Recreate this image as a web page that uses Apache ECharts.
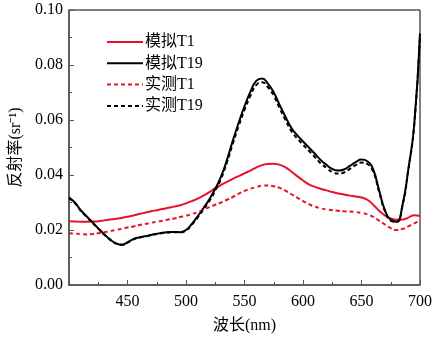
<!DOCTYPE html>
<html><head><meta charset="utf-8">
<script src="https://cdn.jsdelivr.net/npm/echarts@6/dist/echarts.min.js"></script>
<style>html,body{margin:0;padding:0;background:#fff}#c{width:436px;height:339px}</style>
</head><body><div id="c"></div>
<script>
var wavelengths = [400,405,410,415,420,425,430,435,440,445,450,455,460,465,470,475,480,485,490,495,500,505,510,515,520,525,530,535,540,545,550,555,560,565,570,575,580,585,590,595,600,605,610,615,620,625,630,635,640,645,650,655,660,665,670,675,680,685,690,695,700];
var simT1 = [0.0232,0.0231,0.0230,0.0230,0.0231,0.0232,0.0235,0.0238,0.0241,0.0244,0.0248,0.0253,0.0258,0.0263,0.0268,0.0272,0.0276,0.0281,0.0285,0.0290,0.0297,0.0305,0.0314,0.0325,0.0338,0.0352,0.0364,0.0375,0.0386,0.0396,0.0406,0.0416,0.0427,0.0436,0.0440,0.0441,0.0437,0.0428,0.0413,0.0396,0.0380,0.0366,0.0357,0.0350,0.0344,0.0338,0.0333,0.0329,0.0325,0.0322,0.0318,0.0310,0.0292,0.0270,0.0253,0.0242,0.0237,0.0238,0.0245,0.0254,0.0251];
var simT19 = [0.0318,0.0300,0.0272,0.0250,0.0228,0.0206,0.0185,0.0166,0.0152,0.0146,0.0155,0.0167,0.0173,0.0177,0.0182,0.0186,0.0190,0.0192,0.0193,0.0192,0.0200,0.0222,0.0250,0.0280,0.0312,0.0350,0.0395,0.0455,0.0525,0.0590,0.0650,0.0702,0.0742,0.0751,0.0732,0.0700,0.0655,0.0612,0.0572,0.0545,0.0522,0.0500,0.0478,0.0455,0.0437,0.0422,0.0416,0.0420,0.0433,0.0447,0.0456,0.0450,0.0420,0.0345,0.0272,0.0236,0.0230,0.0290,0.0420,0.0580,0.0915];
var measT1 = [0.0188,0.0187,0.0185,0.0184,0.0185,0.0188,0.0192,0.0196,0.0200,0.0204,0.0209,0.0213,0.0218,0.0222,0.0226,0.0230,0.0234,0.0238,0.0242,0.0247,0.0252,0.0258,0.0265,0.0274,0.0283,0.0292,0.0300,0.0310,0.0320,0.0332,0.0342,0.0350,0.0356,0.0361,0.0362,0.0359,0.0353,0.0343,0.0330,0.0318,0.0305,0.0294,0.0285,0.0279,0.0275,0.0272,0.0270,0.0268,0.0267,0.0265,0.0262,0.0257,0.0248,0.0234,0.0220,0.0207,0.0200,0.0204,0.0213,0.0224,0.0234];
var measT19 = [0.0316,0.0298,0.0270,0.0248,0.0226,0.0205,0.0184,0.0165,0.0151,0.0146,0.0154,0.0166,0.0172,0.0176,0.0181,0.0185,0.0189,0.0191,0.0192,0.0191,0.0198,0.0219,0.0246,0.0275,0.0306,0.0343,0.0387,0.0446,0.0514,0.0578,0.0637,0.0688,0.0727,0.0737,0.0720,0.0688,0.0643,0.0600,0.0560,0.0533,0.0510,0.0488,0.0466,0.0443,0.0426,0.0411,0.0405,0.0409,0.0422,0.0436,0.0445,0.0440,0.0412,0.0340,0.0269,0.0234,0.0229,0.0288,0.0418,0.0578,0.0912];
var seriesNames = ['模拟T1','模拟T19','实测T1','实测T19'];
var xTicks = [400,450,500,550,600,650,700];
var yTicks = [0,0.02,0.04,0.06,0.08,0.10];

function pairs(arr){ return wavelengths.map(function(w,i){ return [w, arr[i]]; }); }
var font = '"Liberation Serif","Times New Roman","Noto Sans CJK SC",serif';
var chart = echarts.init(document.getElementById('c'));
function mk(name, data, color, dashed){
  return {name:name,type:'line',data:pairs(data),smooth:true,showSymbol:false,symbol:'none',
    lineStyle:{color:color,width:2,type:dashed?[4,3]:'solid'},itemStyle:{color:color}};
}
chart.setOption({
  animation:false,
  textStyle:{fontFamily:font},
  grid:{left:69,right:16,top:10,bottom:52,show:true,borderColor:'#000',borderWidth:1,backgroundColor:'transparent'},
  legend:{orient:'vertical',left:101,top:29,itemWidth:36,itemHeight:14,itemGap:5.3,
    data:seriesNames,itemStyle:{opacity:0},textStyle:{fontFamily:font,fontSize:16,color:'#000',padding:[0,0,0,-3]}},
  xAxis:{type:'value',min:xTicks[0],max:xTicks[xTicks.length-1],interval:50,
    name:'波长(nm)',nameLocation:'middle',nameGap:33,nameTextStyle:{fontSize:16,color:'#000',fontFamily:font},
    axisLine:{lineStyle:{color:'#555',width:1.5}},
    axisTick:{inside:true,length:5,lineStyle:{color:'#555'}},
    minorTick:{show:true,splitNumber:2,length:3,lineStyle:{color:'#555'}},
    splitLine:{show:false},
    axisLabel:{showMinLabel:false,fontSize:16,color:'#000',margin:9,fontFamily:font}},
  yAxis:{type:'value',min:yTicks[0],max:yTicks[yTicks.length-1],interval:0.02,
    name:'反射率(sr⁻¹)',nameLocation:'middle',nameGap:44,nameTextStyle:{fontSize:16,color:'#000',fontFamily:font},
    axisLine:{show:true,lineStyle:{color:'#555',width:1.5}},
    axisTick:{show:true,inside:true,length:5,lineStyle:{color:'#555'}},
    minorTick:{show:true,splitNumber:2,length:3,lineStyle:{color:'#555'}},
    splitLine:{show:false},
    axisLabel:{fontSize:16,color:'#000',margin:6,fontFamily:font,formatter:function(v){return v.toFixed(2);}}},
  series:[
    mk(seriesNames[0], simT1, '#e8102a', false),
    mk(seriesNames[1], simT19, '#000000', false),
    mk(seriesNames[2], measT1, '#e8102a', true),
    mk(seriesNames[3], measT19, '#000000', true)
  ]
});
</script></body></html>
